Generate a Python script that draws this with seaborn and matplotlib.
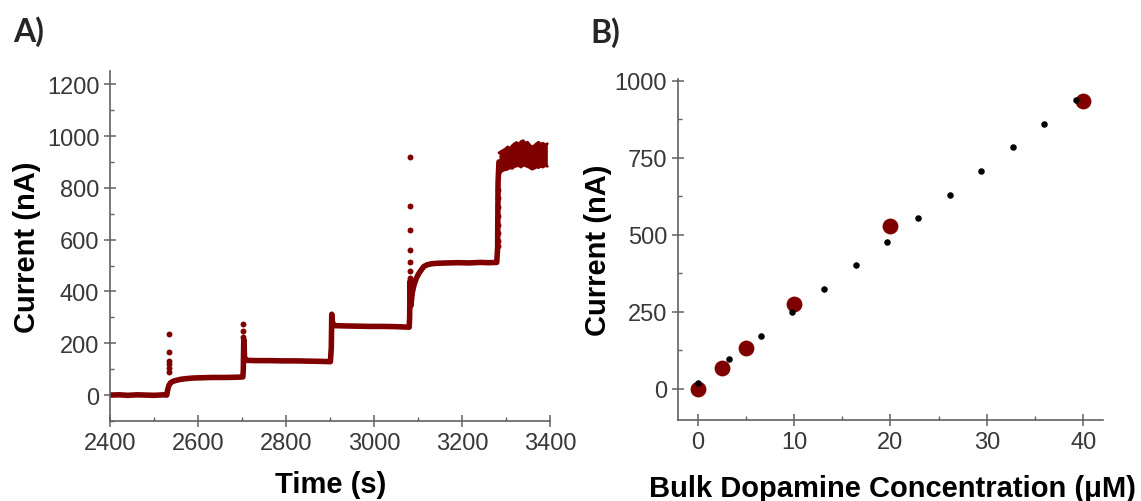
import matplotlib
matplotlib.use("Agg")
import matplotlib.pyplot as plt
import pandas as pd
import seaborn as sns
from matplotlib.ticker import MultipleLocator

sns.set_theme(style="ticks")
plt.rcParams["font.family"] = ["Liberation Sans", "DejaVu Sans"]

RED = "#800000"
AXIS_GREY = "#606060"
LABEL_GREY = "#383838"

# ---- Panel A: amperometric current trace during stepwise dopamine additions ----
trace_time = [2400, 2420, 2440, 2460, 2480, 2500, 2520, 2528,
              2530, 2533, 2537, 2542, 2550, 2560, 2575, 2590, 2610, 2630, 2660, 2690, 2701,
              2702, 2703, 2705, 2710, 2730, 2760, 2790, 2820, 2850, 2880, 2900,
              2902, 2903, 2905, 2910, 2930, 2960, 2990, 3020, 3050, 3079,
              3080, 3081, 3083, 3086, 3090, 3095, 3100, 3106, 3112, 3120, 3130, 3145,
              3165, 3190, 3215, 3240, 3260, 3278,
              3280, 3281, 3283]
trace_current = [0, 1, -1, 1, 0, -1, 1, 0,
                 20, 38, 48, 53, 57, 61, 64, 66, 67, 68, 68, 69, 70,
                 100, 215, 140, 134, 133, 133, 132, 132, 131, 130, 129,
                 185, 312, 275, 268, 267, 266, 265, 265, 264, 262,
                 300, 440, 345, 395, 425, 450, 467, 482, 496, 503, 507, 509,
                 510, 511, 510, 512, 511, 512,
                 570, 820, 900]

# noisy plateau after the last addition: lower / upper envelope
band_time = [3283, 3288, 3293, 3298, 3303, 3308, 3313, 3318, 3323, 3328, 3333, 3338,
             3343, 3348, 3353, 3358, 3363, 3368, 3373, 3378, 3383, 3388, 3393]
band_high = [935, 940, 945, 950, 958, 952, 962, 970, 975, 968, 978, 982,
             972, 976, 965, 958, 962, 970, 976, 968, 972, 966, 970]
band_low = [850, 862, 868, 870, 872, 878, 875, 882, 884, 886, 880, 888,
            885, 882, 878, 872, 875, 880, 878, 884, 880, 886, 883]

# isolated samples of the injection transients
spike_time = [2533] * 6 + [2702] * 3 + [3080] * 7 + [3280] * 8
spike_current = [235, 165, 133, 120, 105, 90,
                 274, 246, 225,
                 918, 731, 636, 561, 512, 480, 452,
                 790, 760, 725, 690, 655, 625, 595, 575]

# ---- Panel B: calibration ----
measured_conc = [0, 2.5, 5, 10, 20, 40]
measured_current = [0, 68, 133, 276, 527, 934]
model_conc = [0, 3.3, 6.6, 9.8, 13.1, 16.4, 19.6, 22.9, 26.2, 29.4, 32.7, 35.9, 39.2]
model_current = [20, 97, 173, 250, 324, 402, 478, 554, 630, 707, 784, 859, 938]

trace = pd.DataFrame({"t": trace_time, "i": trace_current})
band = pd.DataFrame({"t": band_time, "lo": band_low, "hi": band_high})
spikes = pd.DataFrame({"t": spike_time, "i": spike_current})
measured = pd.DataFrame({"c": measured_conc, "i": measured_current})
model = pd.DataFrame({"c": model_conc, "i": model_current})

fig = plt.figure(figsize=(11.41, 5.02), dpi=100)
axA = fig.add_axes([0.0968, 0.1594, 0.3856, 0.6967])
axB = fig.add_axes([0.5944, 0.1618, 0.3721, 0.6787])

# Panel A drawing
sns.lineplot(data=trace, x="t", y="i", ax=axA, color=RED, lw=4,
             estimator=None, sort=False)
axA.fill_between(band["t"], band["lo"], band["hi"], color=RED, lw=0)
sns.lineplot(data=band, x="t", y="hi", ax=axA, color=RED, lw=2, estimator=None)
sns.lineplot(data=band, x="t", y="lo", ax=axA, color=RED, lw=2, estimator=None)
sns.scatterplot(data=spikes, x="t", y="i", ax=axA, color=RED, s=18,
                linewidth=0, zorder=3)

axA.set_xlim(2400, 3400)
axA.set_ylim(-100, 1250)
axA.xaxis.set_major_locator(MultipleLocator(200))
axA.xaxis.set_minor_locator(MultipleLocator(100))
axA.yaxis.set_major_locator(MultipleLocator(200))
axA.yaxis.set_minor_locator(MultipleLocator(100))

# Panel B drawing
sns.scatterplot(data=measured, x="c", y="i", ax=axB, color=RED, s=130,
                linewidth=0, zorder=2)
sns.scatterplot(data=model, x="c", y="i", ax=axB, color="black", s=22,
                linewidth=0, zorder=3)
axB.set_xlim(-2, 42)
axB.set_ylim(-100, 1005)
axB.xaxis.set_major_locator(MultipleLocator(10))
axB.xaxis.set_minor_locator(MultipleLocator(5))
axB.yaxis.set_major_locator(MultipleLocator(250))
axB.yaxis.set_minor_locator(MultipleLocator(125))

for ax in (axA, axB):
    for side in ("top", "right"):
        ax.spines[side].set_visible(False)
    for side in ("left", "bottom"):
        ax.spines[side].set_color(AXIS_GREY)
        ax.spines[side].set_linewidth(1.2)
    ax.tick_params(which="major", direction="inout", length=8, width=1.1,
                   color=AXIS_GREY, labelsize=17, labelcolor=LABEL_GREY, pad=4)
    ax.tick_params(which="minor", direction="in", length=2.8, width=1.0,
                   color=AXIS_GREY)
    ax.grid(False)

axA.set_xlabel("Time (s)", fontsize=21, fontweight="bold", color="black")
axA.set_ylabel("Current (nA)", fontsize=21, fontweight="bold", color="black")
axA.xaxis.set_label_coords(0.5, -0.14)
axA.yaxis.set_label_coords(-0.158, 0.5)

axB.set_xlabel("Bulk Dopamine Concentration (\u03bcM)", fontsize=21,
               fontweight="bold", color="black")
axB.set_ylabel("Current (nA)", fontsize=21, fontweight="bold", color="black")
axB.xaxis.set_label_coords(0.505, -0.159)
axB.yaxis.set_label_coords(-0.157, 0.5)

fig.text(0.0114, 0.916, "A)", fontsize=23, fontweight="bold",
         family=["Lato", "DejaVu Sans"], va="baseline")
fig.text(0.5178, 0.914, "B)", fontsize=23, fontweight="bold",
         family=["Lato", "DejaVu Sans"], va="baseline")

fig.savefig("out.png", dpi=100)
